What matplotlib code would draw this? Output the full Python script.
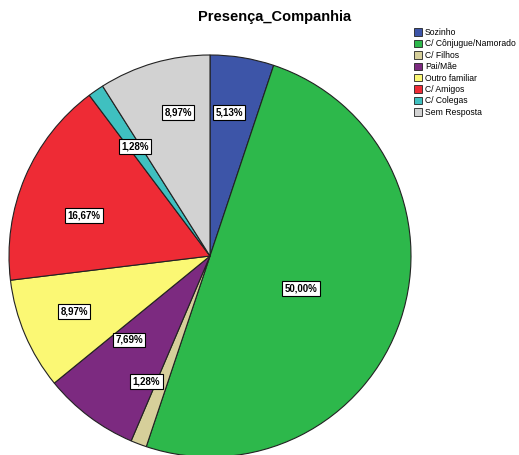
import numpy as np
import matplotlib.pyplot as plt

plt.rcParams['font.family'] = ['Liberation Sans', 'DejaVu Sans']

categorias = ["Sozinho", "C/ Cônjugue/Namorado", "C/ Filhos", "Pai/Mãe",
              "Outro familiar", "C/ Amigos", "C/ Colegas", "Sem Resposta"]
percentagens = [5.13, 50.00, 1.28, 7.69, 8.97, 16.67, 1.28, 8.97]
rotulos = ["5,13%", "50,00%", "1,28%", "7,69%", "8,97%", "16,67%", "1,28%", "8,97%"]
cores = ["#3d55a8", "#2db84b", "#d6cf9a", "#7c2a80", "#fbf874",
         "#ee2b35", "#3fc0c0", "#d2d2d2"]
# distancia do rotulo ao centro (fraccao do raio) e desvio angular (graus)
dist_rotulo = [0.72, 0.48, 0.70, 0.58, 0.73, 0.66, 0.66, 0.73]
desvio_ang = [1.6, -1.0, -6.0, -7.0, -1.0, 5.4, -0.3, -3.6]

fig = plt.figure(figsize=(5.19, 4.55), dpi=100)
ax = fig.add_axes([9 / 519, -2 / 455, 402 / 519, 402 / 455])

wedges, _ = ax.pie(percentagens, colors=cores, startangle=90, counterclock=False,
                   radius=1, wedgeprops=dict(edgecolor="#222222", linewidth=0.8))
for w in wedges:
    w.set_clip_on(False)
ax.set_xlim(-1, 1)
ax.set_ylim(-1, 1)
ax.set_aspect("equal")
ax.axis("off")

for w, txt, d, off in zip(wedges, rotulos, dist_rotulo, desvio_ang):
    ang = np.deg2rad((w.theta1 + w.theta2) / 2 + off)
    ax.text(d * np.cos(ang), d * np.sin(ang), txt, ha="center", va="center",
            fontsize=7, fontweight="bold",
            bbox=dict(boxstyle="square,pad=0.25", fc="white", ec="black", lw=0.8))

fig.text(275 / 519, 1 - 17 / 455, "Presença_Companhia", ha="center", va="center",
         fontsize=10.5, fontweight="bold")

leg = fig.legend(wedges, categorias, loc="upper left",
                 bbox_to_anchor=(414 / 519, 1 - 28 / 455), frameon=False,
                 fontsize=6.2, handlelength=0.95, handleheight=0.95,
                 handletextpad=0.3, labelspacing=0.28, borderpad=0, borderaxespad=0)
for h in leg.legend_handles:
    h.set_linewidth(0.6)

fig.savefig("out.png", dpi=100)
